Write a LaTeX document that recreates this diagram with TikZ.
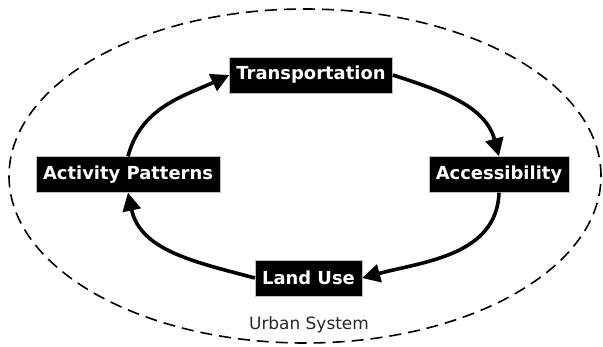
\documentclass[tikz,border=0pt]{standalone}
\usepackage{fontspec}
\setmainfont{DejaVu Sans}
\usetikzlibrary{arrows.meta}
\begin{document}
\begin{tikzpicture}[x=1bp,y=1bp,
	box/.style={fill=black,draw=gray!50,text=white,font=\bfseries\fontsize{18}{21}\selectfont,inner xsep=7bp,minimum height=36bp},
	flow/.style={-{Triangle[length=18bp,width=18bp]},line width=3.6bp}]
	\useasboundingbox (0,0) rectangle (603,346);
	\draw[line width=1.6bp,dash pattern=on 12bp off 7bp] (305,170) ellipse [x radius=296bp,y radius=167bp];
	\node[box] (trans) at (311,271) {Transportation};
	\node[box] (access) at (499,171.5) {Accessibility};
	\node[box] (landuse) at (308.5,68) {Land Use};
	\node[box] (activity) at (128,171.5) {Activity Patterns};
	\node[font=\fontsize{17}{20}\selectfont,text=black!85] (urban) at (309,21) {Urban System};
	\draw[flow] (trans.east) to[out=-18,in=105] (access.north);
	\draw[flow] (access.south) to[out=-92,in=15] (landuse.east);
	\draw[flow] (landuse.west) to[out=165,in=-78] (activity.south);
	\draw[flow] (activity.north) to[out=75,in=205] (trans.west);
\end{tikzpicture}
\end{document}
